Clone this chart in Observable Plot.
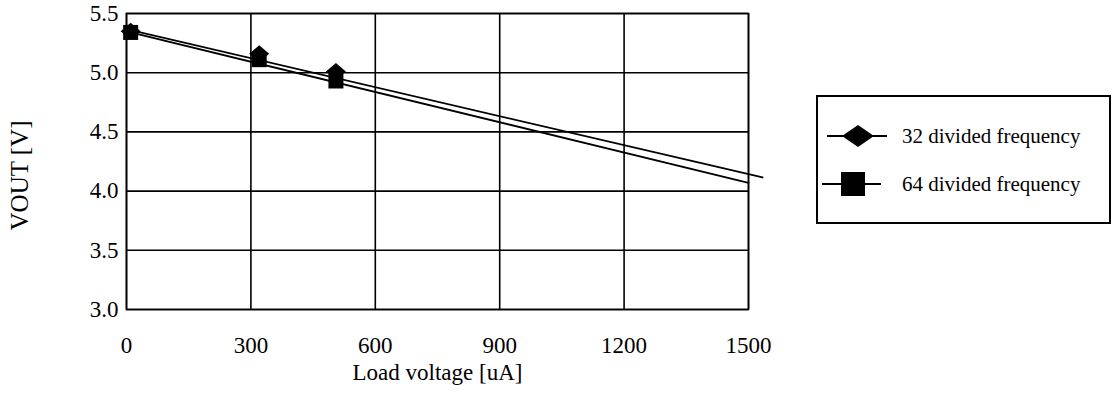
<!DOCTYPE html>
<html><head><meta charset="utf-8">
<script src="https://cdn.jsdelivr.net/npm/d3@7"></script>
<script src="https://cdn.jsdelivr.net/npm/@observablehq/plot@0.6"></script>
<style>
body{margin:0;background:#fff;}
#wrap{position:relative;width:1112px;height:408px;font-family:"Liberation Serif","Times New Roman",Times,"DejaVu Serif","Noto Serif",serif;}
#chart{position:absolute;left:0;top:0;}
#legend{position:absolute;left:816px;top:95px;}
</style></head><body><div id="wrap"><div id="chart"></div><svg id="legend" width="296" height="130"></svg></div>
<script>
// Data
const loadCurrent = [10, 320, 505];
const vout32 = [5.35, 5.16, 5.01];
const vout64 = [5.34, 5.11, 4.93];
const trendX32 = [10, 1534];
const trendY32 = [5.36, 4.115];
const trendX64 = [10, 1500];
const trendY64 = [5.34, 4.07];
const seriesNames = ["32 divided frequency", "64 divided frequency"];
const xTicks = [0, 300, 600, 900, 1200, 1500];
const yTicks = [3.0, 3.5, 4.0, 4.5, 5.0, 5.5];
const xTitle = "Load voltage [uA]";
const yTitle = "VOUT [V]";

const pts = [];
loadCurrent.forEach((x, i) => pts.push({x, y: vout32[i], s: seriesNames[0]}));
loadCurrent.forEach((x, i) => pts.push({x, y: vout64[i], s: seriesNames[1]}));
const trend = [];
trendX32.forEach((x, i) => trend.push({x, y: trendY32[i], s: seriesNames[0]}));
trendX64.forEach((x, i) => trend.push({x, y: trendY64[i], s: seriesNames[1]}));

const diamondSym = {draw(ctx, size) {
  const r = Math.sqrt(size / Math.PI), h = r * 0.85;
  ctx.moveTo(0, -h); ctx.lineTo(r, 0); ctx.lineTo(0, h); ctx.lineTo(-r, 0); ctx.closePath();
}};
const squareSym = {draw(ctx, size) {
  const r = Math.sqrt(size / Math.PI);
  ctx.rect(-r, -r, 2 * r, 2 * r);
}};

const font = '"Liberation Serif","Times New Roman",Times,"DejaVu Serif","Noto Serif",serif';
const chart = Plot.plot({
  width: 800, height: 408,
  marginLeft: 126, marginRight: 52, marginTop: 13, marginBottom: 99,
  style: {fontFamily: font, fontSize: "23px", color: "#000", background: "transparent", overflow: "visible"},
  x: {domain: [0, 1500], ticks: xTicks},
  y: {domain: [3.0, 5.5], ticks: yTicks},
  marks: [
    Plot.gridX(xTicks, {stroke: "#000", strokeOpacity: 1, strokeWidth: 1.6}),
    Plot.gridY(yTicks, {stroke: "#000", strokeOpacity: 1, strokeWidth: 1.6}),
    Plot.frame({stroke: "#000", strokeWidth: 1.6}),
    Plot.axisX(xTicks, {tickSize: 0, tickPadding: 27, label: null, fontSize: 23, fontFamily: font, tickFormat: d => String(d)}),
    Plot.axisY(yTicks, {tickSize: 0, tickPadding: 8, label: null, fontSize: 23, fontFamily: font, tickFormat: d3.format(".1f")}),
    Plot.line(trend, {x: "x", y: "y", z: "s", stroke: "#000", strokeWidth: 1.8}),
    Plot.dot(pts.filter(d => d.s === seriesNames[0]), {x: "x", y: "y", symbol: diamondSym, r: 10, fill: "#000", stroke: "none"}),
    Plot.dot(pts.filter(d => d.s === seriesNames[1]), {x: "x", y: "y", symbol: squareSym, r: 7.5, fill: "#000", stroke: "none"}),
    Plot.text([xTitle], {frameAnchor: "bottom", dy: 70, fontSize: 23, fontFamily: font, fill: "#000"}),
    Plot.text([yTitle], {frameAnchor: "left", textAnchor: "middle", rotate: -90, dx: -107, dy: 14, fontSize: 25, fontFamily: font, fill: "#000"})
  ]
});
document.getElementById("chart").appendChild(chart);

// Legend
const lg = d3.select("#legend");
lg.append("rect").attr("x", 1).attr("y", 1).attr("width", 293).attr("height", 127)
  .attr("fill", "#fff").attr("stroke", "#000").attr("stroke-width", 2);
const items = [
  {name: seriesNames[0], y: 41, x1: 11, x2: 71, cx: 42, sym: "diamond"},
  {name: seriesNames[1], y: 89, x1: 6, x2: 65, cx: 37, sym: "square"}
];
items.forEach(it => {
  lg.append("line").attr("x1", it.x1).attr("x2", it.x2).attr("y1", it.y).attr("y2", it.y)
    .attr("stroke", "#000").attr("stroke-width", 2);
  if (it.sym === "diamond") {
    lg.append("path").attr("d", `M${it.cx - 16},${it.y}L${it.cx},${it.y - 11}L${it.cx + 16},${it.y}L${it.cx},${it.y + 11}Z`).attr("fill", "#000");
  } else {
    lg.append("rect").attr("x", it.cx - 12).attr("y", it.y - 12).attr("width", 24).attr("height", 24).attr("fill", "#000");
  }
  lg.append("text").attr("x", 86).attr("y", it.y).attr("dy", "0.35em")
    .attr("font-family", font).attr("font-size", 21).attr("fill", "#000").text(it.name);
});
</script></body></html>
